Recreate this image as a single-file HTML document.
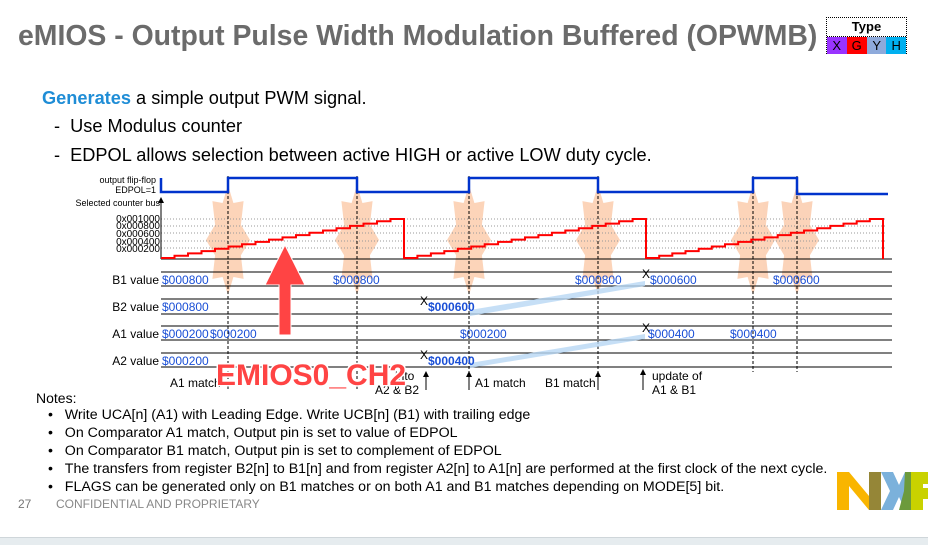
<!DOCTYPE html>
<html><head><meta charset="utf-8"><style>
html,body{margin:0;padding:0;background:#fff;}
body{width:928px;height:544px;position:relative;overflow:hidden;font-family:"Liberation Sans",sans-serif;}
.t{position:absolute;white-space:nowrap;}
</style></head><body>
<div class="t" style="left:18px;top:20px;font-size:28.4px;font-weight:bold;color:#6b6b6b;">eMIOS - Output Pulse Width Modulation Buffered (OPWMB)</div>
<div class="t" style="left:826px;top:17px;width:81px;height:37px;border:1px dotted #000;box-sizing:border-box;">
 <div style="height:18px;text-align:center;font-size:13px;font-weight:bold;line-height:18px;border-bottom:1px dotted #000;">Type</div>
 <div style="display:flex;height:17px;font-size:13px;line-height:17px;text-align:center;">
  <div style="width:20px;background:#9933ff;">X</div><div style="width:21px;background:#ff0000;">G</div><div style="width:20px;background:#8eaadb;">Y</div><div style="width:20px;background:#00b0f0;">H</div>
 </div>
</div>
<div class="t" style="left:42px;top:88px;font-size:18.2px;"><b style="color:#1f8dd6;">Generates</b> a simple output PWM signal.</div>
<div class="t" style="left:54px;top:116px;font-size:18.2px;">-&nbsp; Use Modulus counter</div>
<div class="t" style="left:54px;top:145px;font-size:18.2px;">-&nbsp; EDPOL allows selection between active HIGH or active LOW duty cycle.</div>

<svg id="chart" style="position:absolute;left:0;top:0" width="928" height="544" xmlns="http://www.w3.org/2000/svg" font-family="Liberation Sans, sans-serif">
 <g id="bursts" fill="#fbc9a8" opacity="0.8"></g>
 <g stroke="#999" stroke-dasharray="1,2" stroke-width="1">
  <line x1="161" y1="219" x2="885" y2="219"/><line x1="161" y1="226" x2="885" y2="226"/><line x1="161" y1="233" x2="885" y2="233"/><line x1="161" y1="241" x2="885" y2="241"/><line x1="161" y1="248" x2="885" y2="248"/>
 </g>
 <g stroke="#000" stroke-width="1">
  <line x1="161" y1="259" x2="892" y2="259"/>
  <line x1="161" y1="272" x2="892" y2="272"/><line x1="161" y1="286" x2="892" y2="286"/>
  <line x1="161" y1="299" x2="892" y2="299"/><line x1="161" y1="314" x2="892" y2="314"/>
  <line x1="161" y1="326" x2="892" y2="326"/><line x1="161" y1="340" x2="892" y2="340"/>
  <line x1="161" y1="353" x2="892" y2="353"/><line x1="161" y1="367" x2="892" y2="367"/>
  <line x1="161" y1="200" x2="161" y2="259"/>
 </g>
 <polygon points="158,203 161,197 164,203" fill="#000"/>
 <g stroke="#000" stroke-dasharray="3,2" stroke-width="1">
  <line x1="228" y1="176" x2="228" y2="390"/><line x1="357" y1="176" x2="357" y2="390"/>
  <line x1="469" y1="176" x2="469" y2="390"/><line x1="598" y1="176" x2="598" y2="390"/>
  <line x1="753" y1="176" x2="753" y2="372"/><line x1="797" y1="176" x2="797" y2="372"/>
 </g>
 <polyline fill="none" stroke="#0033cc" stroke-width="2.5" points="161,178 161,192 228,192 228,178 357,178 357,192 469,192 469,178 598,178 598,192 753,192 753,178 797,178 797,194 888,194"/>
 <path id="ramp" fill="none" stroke="#ff0000" stroke-width="2"/>
 <g fill="#b8d8f5" opacity="0.8">
  <polygon points="470,310 645,281 645,286 470,316"/>
  <polygon points="470,363 645,334 645,339 470,368"/>
 </g>
 <g font-size="9" text-anchor="end" fill="#000">
  <text x="156" y="183">output flip-flop</text>
  <text x="156" y="193">EDPOL=1</text>
  <text x="160" y="206">Selected counter bus</text>
  <text x="160" y="222" font-size="10">0x001000</text><text x="160" y="229" font-size="10">0x000800</text>
  <text x="160" y="237" font-size="10">0x000600</text><text x="160" y="245" font-size="10">0x000400</text>
  <text x="160" y="252" font-size="10">0x000200</text>
 </g>
 <g font-size="12" text-anchor="end"><text x="159" y="284">B1 value</text><text x="159" y="311">B2 value</text><text x="159" y="338">A1 value</text><text x="159" y="365">A2 value</text></g>
 <g font-size="12" fill="#1a4fd6">
  <text x="162" y="284">$000800</text><text x="333" y="284">$000800</text><text x="575" y="284">$000800</text><text x="650" y="284">$000600</text><text x="773" y="284">$000600</text>
  <text x="162" y="311">$000800</text><text x="428" y="311" font-weight="bold">$000600</text>
  <text x="162" y="338">$000200</text><text x="210" y="338">$000200</text><text x="460" y="338">$000200</text><text x="648" y="338">$000400</text><text x="730" y="338">$000400</text>
  <text x="162" y="365">$000200</text><text x="428" y="365" font-weight="bold">$000400</text>
 </g>
 <g font-size="12" fill="#000">
  <text x="170" y="387">A1 match</text><text x="475" y="387">A1 match</text><text x="545" y="387">B1 match</text>
  <text x="652" y="380">update of</text><text x="652" y="394">A1 &amp; B1</text>
  <text x="395" y="380">into</text><text x="375" y="394">A2 &amp; B2</text>
  <text x="420" y="305">X</text><text x="420" y="359">X</text><text x="642" y="278">X</text><text x="642" y="332">X</text>
 </g>
 <g stroke="#000" fill="#000"><line x1="426" y1="376" x2="426" y2="390"/><line x1="469" y1="376" x2="469" y2="390"/><line x1="598" y1="376" x2="598" y2="390"/><line x1="643" y1="374" x2="643" y2="390"/></g>
 <g fill="#000"><polygon points="423,377 426,371 429,377"/><polygon points="466,377 469,371 472,377"/><polygon points="595,377 598,371 601,377"/><polygon points="640,375 643,369 646,375"/></g>
 <polygon points="279,335 291,335 291,285 305,285 285,245 265,285 279,285" fill="#ff4444" stroke="#fff" stroke-width="1"/>
 <text x="216" y="385" font-size="30" font-weight="bold" fill="#ff4444" stroke="#fff" stroke-width="3" paint-order="stroke">EMIOS0_CH2</text>
</svg>

<div class="t" style="left:36px;top:389px;font-size:14px;line-height:18px;">Notes:</div>
<div style="position:absolute;left:48px;top:406px;font-size:14.2px;line-height:18px;font-family:'Liberation Sans',sans-serif;white-space:nowrap;">
<div>•&nbsp;&nbsp;&nbsp;Write UCA[n] (A1) with Leading Edge. Write UCB[n] (B1) with trailing edge</div>
<div>•&nbsp;&nbsp;&nbsp;On Comparator A1 match, Output pin is set to value of EDPOL</div>
<div>•&nbsp;&nbsp;&nbsp;On Comparator B1 match, Output pin is set to complement of EDPOL</div>
<div>•&nbsp;&nbsp;&nbsp;The transfers from register B2[n] to B1[n] and from register A2[n] to A1[n] are performed at the first clock of the next cycle.</div>
<div>•&nbsp;&nbsp;&nbsp;FLAGS can be generated only on B1 matches or on both A1 and B1 matches depending on MODE[5] bit.</div>
</div>
<div class="t" style="left:18px;top:497px;font-size:12px;color:#777;">27</div>
<div class="t" style="left:56px;top:497px;font-size:12px;color:#888;">CONFIDENTIAL AND PROPRIETARY</div>
<svg style="position:absolute;left:836px;top:471px" width="92" height="40">
 <polygon points="1,1 13,1 33,25 33,1 45,1 45,39 33,39 13,15 13,39 1,39" fill="#f9b500"/>
 <polygon points="33,1 45,1 45,39 33,39" fill="#958637"/>
 <polygon points="45,1 57,1 63,14 69,1 75,1 75,39 69,39 63,26 57,39 45,39 54,20" fill="#7bb1db"/>
 <polygon points="69,1 75,1 75,39 63,39 68,20" fill="#6c9a3c"/>
 <polygon points="75,1 92,1 92,13 87,13 87,17 92,17 92,28 87,28 87,39 75,39" fill="#c9d200"/>
</svg>
<div style="position:absolute;left:0;top:537px;width:928px;height:7px;background:#e6ecef;border-top:1px solid #cfd6da;"></div>
<script>
(function(){
 var d="",segs=[[161,404,258,219],[404,646,258,219],[646,883,258,219]];
 segs.forEach(function(s,i){
  var n=18,x=s[0],y=s[2];
  d+=(i==0?"M":"L")+x+","+s[2];
  for(var k=0;k<n;k++){var nx=s[0]+(s[1]-s[0])*(k+1)/n; if(k==n-1) nx=s[1]; d+=" L"+nx.toFixed(1)+","+y.toFixed(1); if(k<n-1){y=s[2]-(s[2]-s[3])*(k+1)/(n-1); d+=" L"+nx.toFixed(1)+","+y.toFixed(1);} }
  d+=" L"+s[1]+",259";
 });
 document.getElementById("ramp").setAttribute("d",d);
 var g=document.getElementById("bursts"),xs=[228,357,469,598,753,797],html="";
 xs.forEach(function(cx){
  var pts=[],cy=240;
  for(var k=0;k<16;k++){var a=k*Math.PI/8, r=(k%2?14:22), ry=(k%2?40:55);
   pts.push((cx+Math.sin(a)*r).toFixed(1)+","+(cy-Math.cos(a)*ry).toFixed(1));}
  html+='<polygon points="'+pts.join(" ")+'"/>';
 });
 g.innerHTML=html;
})();
</script>
</body></html>
